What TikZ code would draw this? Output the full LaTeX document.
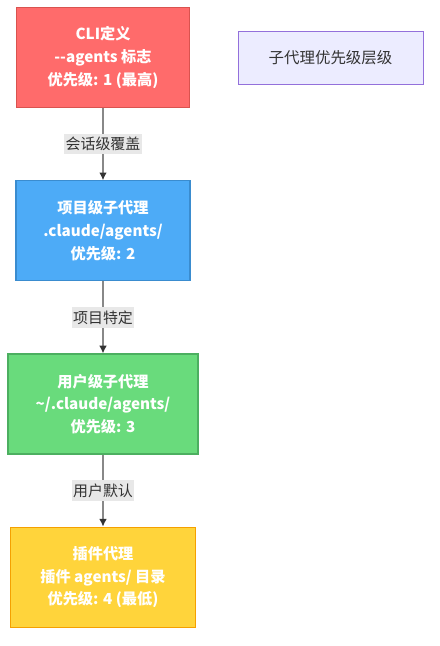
\documentclass[tikz,border=0pt]{standalone}
\usepackage{fontspec}
\setmainfont{Noto Sans CJK SC}
\usepackage{tikz}
\usetikzlibrary{positioning}
\usetikzlibrary{arrows.meta}
\tikzset{>={Latex[width=2mm,length=2mm,color=black!80]}}
\definecolor{cliRed}{HTML}{FF6B6B}
\definecolor{cliRedLine}{HTML}{D9534F}
\definecolor{projBlue}{HTML}{4DABF7}
\definecolor{projBlueLine}{HTML}{3A8CCF}
\definecolor{userGreen}{HTML}{69DB7C}
\definecolor{userGreenLine}{HTML}{4CAF60}
\definecolor{plugYellow}{HTML}{FFD43B}
\definecolor{plugYellowLine}{HTML}{F5A000}
\definecolor{titleFill}{HTML}{ECECFF}
\definecolor{titleLine}{HTML}{9370DB}
\definecolor{edgeGray}{HTML}{888888}
\definecolor{labelFill}{HTML}{E8E8E8}

\begin{document}
\begin{tikzpicture}[x=0.75pt, y=-0.75pt, node distance=54pt, level/.style={rectangle, draw, line width=0.9pt, text=white, font=\bfseries\fontsize{11.4pt}{17pt}\selectfont, align=center, minimum height=75pt, inner sep=0pt}, titlenode/.style={rectangle, draw=titleLine, fill=titleFill, line width=0.75pt, text=black!80, font=\fontsize{11.6pt}{14pt}\selectfont, minimum width=138.75pt, minimum height=39.75pt}, edgelabel/.style={fill=labelFill, text=black!80, font=\fontsize{11.2pt}{13pt}\selectfont, inner xsep=1pt, inner ysep=2.5pt}]
    \useasboundingbox (0,0) rectangle (439,646);
    
    %Nodes
    \node[level, fill=cliRed, draw=cliRedLine, minimum width=129.75pt](cli) at (103,57.5){CLI定义\\-{}-agents 标志\\优先级: 1 (最高)};
    \node[level, fill=projBlue, draw=projBlueLine, minimum width=130.5pt](project)[below=of cli]{项目级子代理\\.claude/agents/\\优先级: 2};
    \node[level, fill=userGreen, draw=userGreenLine, minimum width=142.5pt](user)[below=of project]{用户级子代理\\\textasciitilde/.claude/agents/\\优先级: 3};
    \node[level, fill=plugYellow, draw=plugYellowLine, minimum width=138.75pt](plugin)[below=of user]{插件代理\\插件 agents/ 目录\\优先级: 4 (最低)};
    \node[titlenode](title) at (330.5,57.5){子代理优先级层级};
    
    %Lines
    \draw[->, edgeGray, thick] (cli.south) -- node[edgelabel]{会话级覆盖} (project.north);
    \draw[->, edgeGray, thick] (project.south) -- node[edgelabel]{项目特定} (user.north);
    \draw[->, edgeGray, thick] (user.south) -- node[edgelabel]{用户默认} (plugin.north);
    
    \end{tikzpicture}
\end{document}
